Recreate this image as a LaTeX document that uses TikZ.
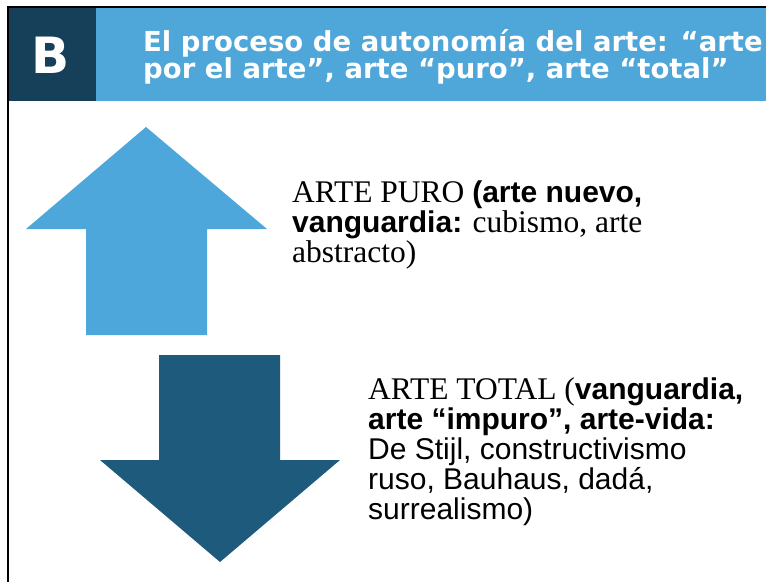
\documentclass[tikz,border=0pt]{standalone}
\usepackage{fontspec}
\setmainfont{Liberation Serif}
\newfontfamily\sansf{Liberation Sans}
\newfontfamily\titlef{DejaVu Sans}
\definecolor{hdrdark}{HTML}{163F5A}
\definecolor{hdrlight}{HTML}{4EA6D9}
\definecolor{arrowup}{HTML}{4EA7DA}
\definecolor{arrowdown}{HTML}{1E5A7B}
\newcommand{\mysb}[1]{{\sansf\bfseries\fontsize{30}{30}\selectfont #1}}
\newcommand{\mysr}[1]{{\sansf\fontsize{30}{30}\selectfont #1}}
\tikzset{
  bodytext/.style={anchor=north west, inner sep=0pt, align=left, text=black,
    font=\fontsize{31.5}{30}\selectfont},
  titletext/.style={anchor=north west, inner sep=0pt, align=left, text=white,
    font=\titlef\bfseries\fontsize{27.5}{25}\selectfont},
  frameline/.style={draw=black, line width=2.5pt}
}
\begin{document}
\begin{tikzpicture}[x=1pt,y=-1pt]
\useasboundingbox (0,0) rectangle (766,582);
% header
\fill[hdrdark] (8,7) rectangle (96,101);
\fill[hdrlight] (96,7) rectangle (766,101);
\draw[frameline] (766,7) -- (8,7) -- (8,582);
\node[text=white, inner sep=0pt, font=\titlef\bfseries\fontsize{50}{50}\selectfont] (letter) at (51,55) {B};
\node[titletext] (title) at (143,29) {\rule{0pt}{22pt}El proceso de autonomía del arte: “arte\\por el arte”, arte “puro”, arte “total”};
% up arrow
\fill[arrowup] (146,127) -- (267,229) -- (207,229) -- (207,335) -- (86,335) -- (86,229) -- (26,229) -- cycle;
% down arrow
\fill[arrowdown] (159,355) -- (280,355) -- (280,460) -- (340,460) -- (220,562) -- (100,460) -- (159,460) -- cycle;
% texts
\node[bodytext] (puro) at (292,179) {\rule{0pt}{23pt}ARTE PURO \mysb{(arte nuevo,}\\\mysb{vanguardia:} cubismo, arte\\abstracto)};
\node[bodytext] (total) at (368,376) {\rule{0pt}{23pt}ARTE TOTAL (\mysb{vanguardia,}\\\mysb{arte “impuro”, arte-vida:}\\\mysr{De Stijl, constructivismo}\\\mysr{ruso, Bauhaus, dadá,}\\\mysr{surrealismo)}};
\end{tikzpicture}
\end{document}
